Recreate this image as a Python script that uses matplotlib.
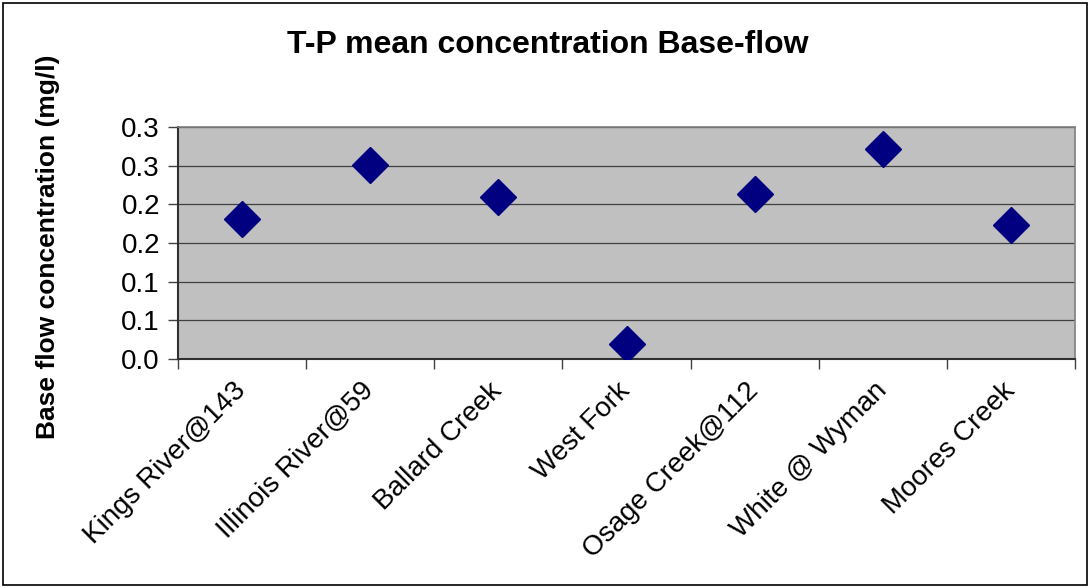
import matplotlib
matplotlib.use("Agg")
import matplotlib.pyplot as plt
import matplotlib.patches as mpatches
import numpy as np
from decimal import Decimal, ROUND_HALF_UP

plt.rcParams["font.family"] = ["Liberation Sans", "DejaVu Sans"]

# ── data ────────────────────────────────────────────────────────────────────
sites = ["Kings River@143", "Illinois River@59", "Ballard Creek", "West Fork",
         "Osage Creek@112", "White @ Wyman", "Moores Creek"]
conc = [0.181, 0.251, 0.209, 0.019, 0.213, 0.271, 0.173]
yticks = [0.0, 0.05, 0.10, 0.15, 0.20, 0.25, 0.30]


def one_decimal(v):
    # spreadsheet-style rounding (0.05 -> 0.1)
    return str(Decimal(str(v)).quantize(Decimal("0.1"), rounding=ROUND_HALF_UP))


# ── figure ──────────────────────────────────────────────────────────────────
fig = plt.figure(figsize=(10.91, 5.88), dpi=100)
ax = fig.add_axes([178 / 1091, 1 - 359 / 588, (1075 - 178) / 1091, (359 - 127) / 588])
ax.set_facecolor("#C0C0C0")

x = np.arange(len(sites)) + 0.5
ax.plot(x, conc, linestyle="none", marker="D", markersize=18,
        color="#000080", zorder=3)

ax.set_xlim(0, len(sites))
ax.set_ylim(0, 0.3)

ax.set_yticks(yticks)
ax.set_yticklabels([one_decimal(v) for v in yticks], fontsize=20)
ax.grid(axis="y", color="#404040", linewidth=0.9)
ax.set_axisbelow(True)

ax.set_xticks(np.arange(len(sites) + 1))
ax.set_xticklabels([])
ax.set_xticks(x, minor=True)
ax.set_xticklabels(sites, minor=True, rotation=45, ha="right", va="center",
                   rotation_mode="anchor", fontsize=20)
ax.tick_params(axis="x", which="minor", length=0, pad=20)
ax.tick_params(axis="y", which="major", pad=6)
ax.tick_params(axis="both", which="major", direction="out", length=7,
               width=1, color="#404040")

for side in ["top", "right"]:
    ax.spines[side].set_color("#808080")
    ax.spines[side].set_linewidth(1.2)
for side in ["left", "bottom"]:
    ax.spines[side].set_color("#303030")
    ax.spines[side].set_linewidth(1.5)

ax.set_ylabel("Base flow concentration (mg/l)", fontsize=19, fontweight="bold")
ax.yaxis.set_label_coords(-0.131, 0.483)
fig.text(548 / 1091, 1 - 45 / 588, "T-P mean concentration Base-flow",
         ha="center", va="center", fontsize=23, fontweight="bold")

# outer frame
fig.patches.append(mpatches.Rectangle((0.003, 0.005), 0.993, 0.99,
                                      transform=fig.transFigure, fill=False,
                                      edgecolor="black", linewidth=1.2))

fig.savefig("out.png", dpi=100)
